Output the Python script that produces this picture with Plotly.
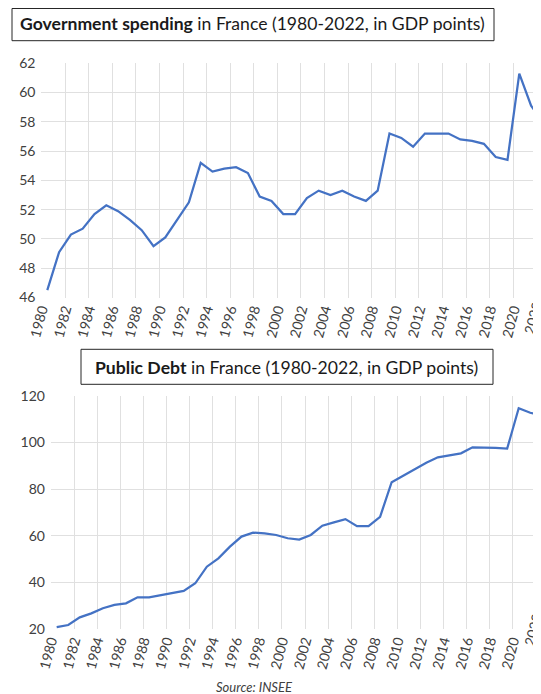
import plotly.graph_objects as go

# the page has an 8px body margin, so the figure is laid out in screen pixels
# and shifted by that amount
OX, OY = 8, 8
W, H = 541 - OX, 694 - OY

years = list(range(1980, 2023))
spending = [46.5, 49.1, 50.3, 50.7, 51.7, 52.3, 51.9, 51.3, 50.6, 49.5,
            50.1, 51.3, 52.5, 55.2, 54.6, 54.8, 54.9, 54.5, 52.9, 52.6,
            51.7, 51.7, 52.8, 53.3, 53.0, 53.3, 52.9, 52.6, 53.3, 57.2,
            56.9, 56.3, 57.2, 57.2, 57.2, 56.8, 56.7, 56.5, 55.6, 55.4,
            61.3, 59.1, 58.0]
debt = [20.8, 21.7, 25.0, 26.7, 28.9, 30.3, 31.0, 33.6, 33.6, 34.4,
        35.4, 36.3, 39.6, 46.7, 50.3, 55.3, 59.6, 61.3, 61.0, 60.3,
        58.9, 58.3, 60.3, 64.3, 65.7, 67.1, 64.1, 64.1, 68.1, 82.9,
        85.7, 88.6, 91.3, 93.6, 94.6, 95.3, 97.9, 97.9, 97.6, 97.3,
        114.6, 112.7, 111.6]

year_ticks = list(range(1980, 2023, 2))
year_labels = [str(y) for y in year_ticks]
grid_x = [y + 1.5 for y in range(1980, 2022, 2)]
spend_ticks = list(range(46, 63, 2))
debt_ticks = list(range(20, 121, 20))


def px(x):
    return (x - OX) / W


def py(y):
    return 1 - (y - OY) / H


LINE = "#4472C4"
GRID = "#e0e0e0"
TXT = "#404040"
FONT = "Lato"

fig = go.Figure()
fig.add_trace(go.Scatter(x=years, y=spending, mode="lines",
                         line=dict(color=LINE, width=2.25),
                         xaxis="x", yaxis="y", showlegend=False))
fig.add_trace(go.Scatter(x=years, y=debt, mode="lines",
                         line=dict(color=LINE, width=2.25),
                         xaxis="x2", yaxis="y2", showlegend=False))

xcommon = dict(tickmode="array", tickvals=year_ticks, ticktext=year_labels,
               tickangle=-75, showgrid=False, zeroline=False, showline=False,
               ticks="", automargin=False, ticklabelshift=-6,
               tickfont=dict(family=FONT, size=14, color=TXT),
               minor=dict(tickmode="array", tickvals=grid_x, showgrid=True,
                          gridcolor=GRID, gridwidth=1, ticks=""))

ycommon = dict(tickmode="array", showgrid=False, zeroline=False, ticks="",
               automargin=False, ticklabelstandoff=5,
               tickfont=dict(family=FONT, size=14, color=TXT))

fig.update_layout(
    width=W, height=H,
    margin=dict(l=0, r=0, t=0, b=0, autoexpand=False),
    paper_bgcolor="white", plot_bgcolor="white",
    xaxis=dict(domain=[px(41.4), 1], range=[1979.5, 2021.84],
               anchor="y", **xcommon),
    yaxis=dict(domain=[py(297.5), py(63.3)], range=[46, 62],
               tickvals=spend_ticks, anchor="x",
               minor=dict(tickmode="array", tickvals=spend_ticks[1:-1],
                          showgrid=True, gridcolor=GRID, gridwidth=1),
               **ycommon),
    xaxis2=dict(domain=[px(50.9), 1], range=[1979.5, 2021.93],
                anchor="y2", **xcommon),
    yaxis2=dict(domain=[py(629), py(395.7)], range=[20, 120],
                tickvals=debt_ticks, anchor="x2",
                minor=dict(tickmode="array", tickvals=debt_ticks[1:-1],
                           showgrid=True, gridcolor=GRID, gridwidth=1),
                **ycommon),
)

# title boxes
fig.add_shape(type="rect", xref="paper", yref="paper",
              x0=px(12), x1=px(494), y0=py(40.7), y1=py(8.5),
              line=dict(color="#262626", width=1))
fig.add_shape(type="rect", xref="paper", yref="paper",
              x0=px(81), x1=px(493), y0=py(384.3), y1=py(349.3),
              line=dict(color="#262626", width=1))

fig.add_annotation(xref="paper", yref="paper", x=px(253), y=py(23.5),
                   text="<b>Government spending</b> in France (1980-2022, in GDP points)",
                   showarrow=False, xanchor="center", yanchor="middle",
                   font=dict(family=FONT, size=17.6, color="#1a1a1a"))
fig.add_annotation(xref="paper", yref="paper", x=px(286), y=py(367),
                   text="<b>Public Debt</b> in France (1980-2022, in GDP points)",
                   showarrow=False, xanchor="center", yanchor="middle",
                   font=dict(family=FONT, size=17.6, color="#1a1a1a"))

# 2022 labels, cut by the right edge as in the original
fig.add_annotation(xref="paper", yref="paper", x=px(548), y=py(318),
                   text="2022", textangle=-75, showarrow=False,
                   font=dict(family=FONT, size=14, color=TXT))
fig.add_annotation(xref="paper", yref="paper", x=px(548), y=py(650),
                   text="2022", textangle=-75, showarrow=False,
                   font=dict(family=FONT, size=14, color=TXT))

fig.add_annotation(xref="paper", yref="paper", x=px(254), y=py(687),
                   text="<i>Source: INSEE</i>", showarrow=False,
                   xanchor="center", yanchor="middle",
                   font=dict(family=FONT, size=13, color="#404040"))

fig.write_html("out.html")
